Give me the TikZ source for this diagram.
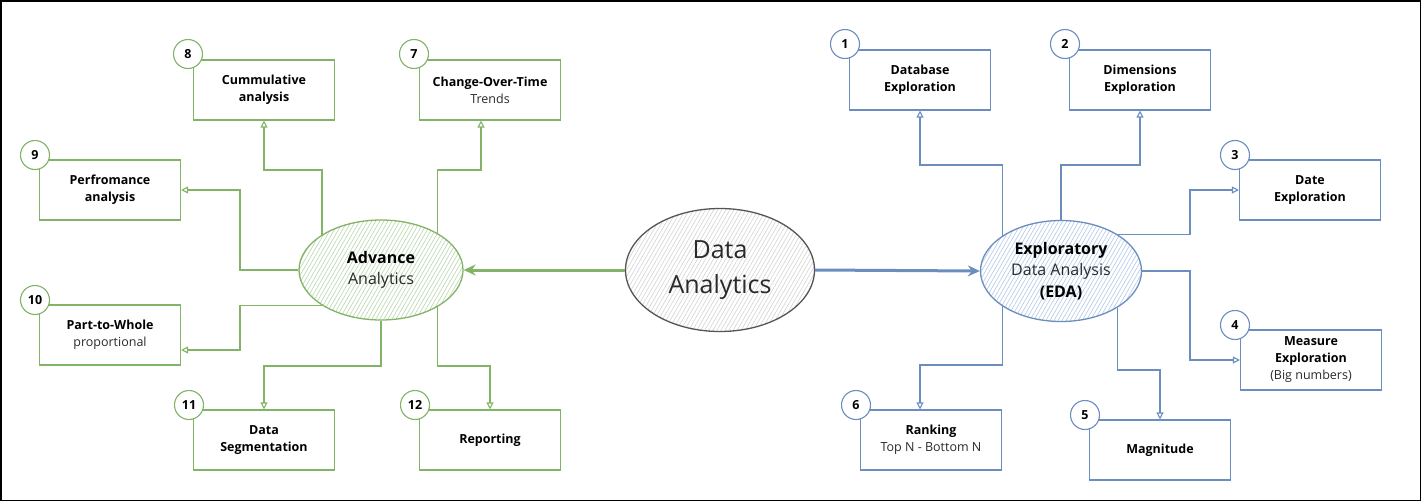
\documentclass[tikz,border=0pt]{standalone}
\usepackage{fontspec}
\setmainfont{Open Sans}
\usetikzlibrary{arrows.meta,shapes.geometric,patterns.meta}
\definecolor{gs}{HTML}{82B366}
\definecolor{gh}{HTML}{B9D7AC}
\definecolor{bs}{HTML}{6C8EBF}
\definecolor{bh}{HTML}{B3C8E8}
\definecolor{ks}{HTML}{555555}
\definecolor{kh}{HTML}{D4D4D4}
\definecolor{tx}{HTML}{2A2A2A}
\begin{document}
\begin{tikzpicture}[x=1pt,y=-1pt,
  box/.style={draw, line width=1.1pt, fill=white, minimum width=141pt, minimum height=60pt,
    align=center, font=\fontsize{12.5}{17}\selectfont, inner sep=1pt, text=black},
  num/.style={circle, draw, line width=1.1pt, fill=white, minimum size=29pt, inner sep=0pt,
    font=\fontsize{12.5}{14}\selectfont\bfseries},
  conn/.style={line width=1.1pt, -{Triangle[open, length=7pt, width=7pt]}},
  hub/.style={ellipse, line width=1.3pt, align=center, inner sep=0pt, preaction={fill=white},
    pattern={Lines[angle=60,distance=3.5pt,line width=0.6pt]}},
  main/.style={line width=3pt, -{Stealth[length=12pt,width=11pt]}},
  reg/.style={text=tx}
]
\useasboundingbox (0,0) rectangle (1421,501);
\draw[line width=1.5pt] (0.75,0.75) rectangle (1420.25,500.25);

% hubs
\node[hub, draw=ks, pattern color=kh, minimum width=189pt, minimum height=123pt,
  font=\fontsize{25}{35}\selectfont, text=tx] (da) at (720,270) {Data\\Analytics};
\node[hub, draw=gs, pattern color=gh, minimum width=164pt, minimum height=100pt,
  font=\fontsize{16}{21}\selectfont] (adv) at (381,270) {\textbf{Advance}\\{\color{tx}Analytics}};
\node[hub, draw=bs, pattern color=bh, minimum width=161pt, minimum height=101pt,
  font=\fontsize{16}{21.5}\selectfont] (eda) at (1061,271) {\textbf{Exploratory}\\{\color{tx}Data Analysis}\\\textbf{(EDA)}};

% green boxes
\begin{scope}[every node/.append style={draw=gs}]
\node[box] (b8) at (264,90) {\textbf{Cummulative}\\\textbf{analysis}};
\node[box] (b7) at (490,90) {\textbf{Change-Over-Time}\\{\color{tx}Trends}};
\node[box] (b9) at (110,190) {\textbf{Perfromance}\\\textbf{analysis}};
\node[box] (b10) at (110,335) {\textbf{Part-to-Whole}\\{\color{tx}proportional}};
\node[box] (b11) at (264,440) {\textbf{Data}\\\textbf{Segmentation}};
\node[box] (b12) at (490,440) {\textbf{Reporting}};
\node[num] (n8) at (188,54) {8};
\node[num] (n7) at (414,54) {7};
\node[num] (n9) at (35,155) {9};
\node[num] (n10) at (35,300) {10};
\node[num] (n11) at (189,405) {11};
\node[num] (n12) at (415,405) {12};
\end{scope}

% blue boxes
\begin{scope}[every node/.append style={draw=bs}]
\node[box] (b1) at (920,80) {\textbf{Database}\\\textbf{Exploration}};
\node[box] (b2) at (1140,80) {\textbf{Dimensions}\\\textbf{Exploration}};
\node[box] (b3) at (1310,190) {\textbf{Date}\\\textbf{Exploration}};
\node[box] (b4) at (1311,360) {\textbf{Measure}\\\textbf{Exploration}\\{\color{tx}(Big numbers)}};
\node[box] (b5) at (1160,450) {\textbf{Magnitude}};
\node[box] (b6) at (931,440) {\textbf{Ranking}\\{\color{tx}Top N - Bottom N}};
\node[num] (n1) at (845,44) {1};
\node[num] (n2) at (1065,44) {2};
\node[num] (n3) at (1235,155) {3};
\node[num] (n4) at (1235,325) {4};
\node[num] (n5) at (1085,415) {5};
\node[num] (n6) at (856,405) {6};
\end{scope}

% elbow points
\coordinate (k8) at (264,170);
\coordinate (k7) at (481,170);
\coordinate (k9) at (240,190);
\coordinate (k10) at (240,350);
\coordinate (k11) at (264,366);
\coordinate (k12) at (490,366);
\coordinate (k1) at (920,165);
\coordinate (k2) at (1140,165);
\coordinate (k3) at (1190,190);
\coordinate (k4) at (1190,360);
\coordinate (k5) at (1160,370);
\coordinate (k6) at (920,365);

% green connectors
\begin{scope}[gs]
\draw[conn] (adv.149) |- (k8) -- (b8.south);
\draw[conn] (adv.33) |- (k7) -- (b7.south -| k7);
\draw[conn] (adv.west) -| (k9) -- (b9.east);
\draw[conn] (adv.211) -| (k10) -- (b10.east |- k10);
\draw[conn] (adv.south) |- (k11) -- (b11.north);
\draw[conn] (adv.327) |- (k12) -- (b12.north);
\end{scope}

% blue connectors
\begin{scope}[bs]
\draw[conn] (eda.149) |- (k1) -- (b1.south);
\draw[conn] (eda.north) |- (k2) -- (b2.south);
\draw[conn] (eda.33) -| (k3) -- (b3.west);
\draw[conn] (eda.east) -| (k4) -- (b4.west);
\draw[conn] (eda.327) |- (k5) -- (b5.north);
\draw[conn] (eda.211) |- (k6) -- (b6.north -| k6);
\end{scope}

% main arrows
\draw[main, gs] (da.west) -- (adv.east);
\draw[main, bs] (da.east) -- (eda.west);
\end{tikzpicture}
\end{document}
